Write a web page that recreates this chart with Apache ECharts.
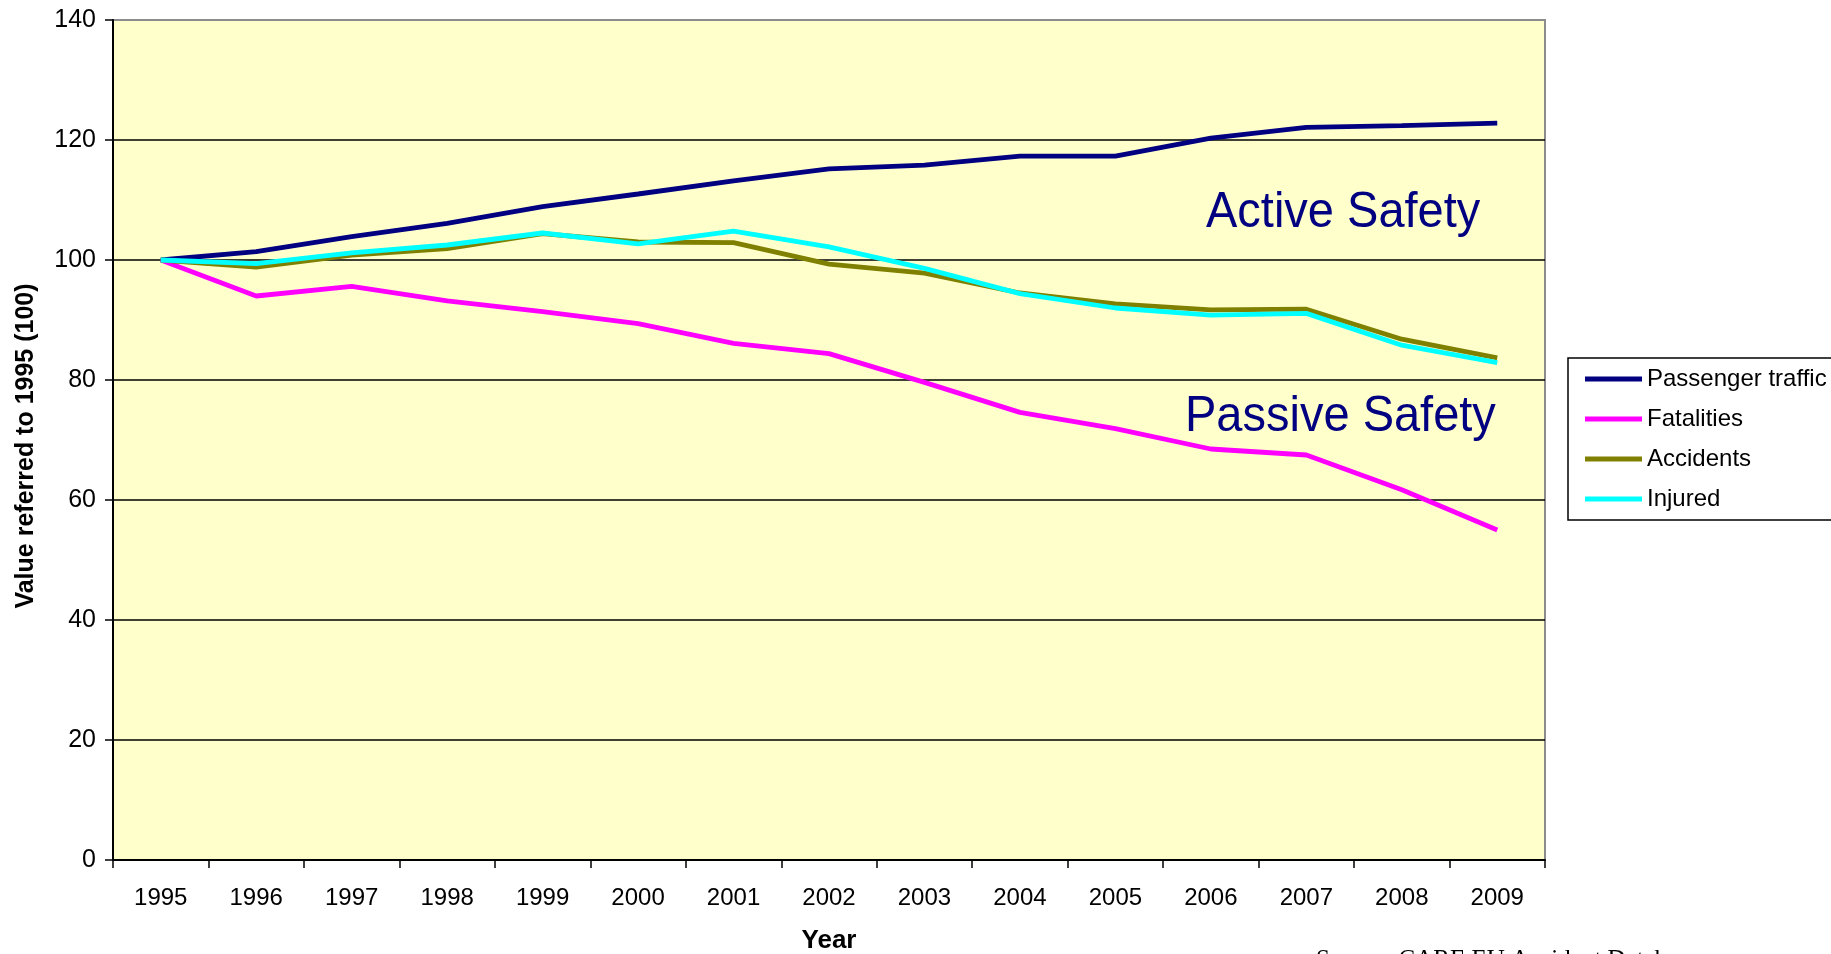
<!DOCTYPE html>
<html>
<head>
<meta charset="utf-8">
<script src="https://cdn.jsdelivr.net/npm/echarts@6/dist/echarts.min.js"></script>
<style>
html,body{margin:0;padding:0;background:#fff;}
#c{width:1831px;height:954px;}
</style>
</head>
<body>
<div id="c"></div>
<script>
const years = ['1995','1996','1997','1998','1999','2000','2001','2002','2003','2004','2005','2006','2007','2008','2009'];
const passengerTraffic = [100, 101.4, 103.9, 106.1, 108.9, 111.0, 113.2, 115.2, 115.8, 117.3, 117.3, 120.3, 122.1, 122.4, 122.8];
const fatalities = [100, 94.0, 95.6, 93.2, 91.4, 89.4, 86.1, 84.4, 79.6, 74.6, 71.9, 68.5, 67.5, 61.7, 55.0];
const accidents = [100, 98.8, 100.8, 101.9, 104.4, 103.0, 102.9, 99.3, 97.8, 94.5, 92.7, 91.7, 91.8, 86.8, 83.7];
const injured = [100, 99.4, 101.2, 102.5, 104.5, 102.7, 104.8, 102.2, 98.6, 94.4, 92.0, 90.8, 91.1, 85.8, 82.9];
const yTicks = [0, 20, 40, 60, 80, 100, 120, 140];

const font = 'Liberation Sans, Arial, sans-serif';
const chart = echarts.init(document.getElementById('c'), null, {renderer: 'canvas'});
const mk = (name, data, color) => ({
  name, type: 'line', data, symbol: 'none', smooth: false,
  lineStyle: {color, width: 4.8}, itemStyle: {color},
  emphasis: {disabled: true}, animation: false
});
chart.setOption({
  animation: false,
  grid: {left: 113, right: 286, top: 20, bottom: 94, show: true, containLabel: false, outerBoundsMode: 'none',
    backgroundColor: '#FFFFCC', borderColor: '#8c8c8c', borderWidth: 2},
  xAxis: {
    type: 'category', data: years, boundaryGap: true,
    name: 'Year', nameLocation: 'middle', nameGap: 68,
    nameTextStyle: {fontFamily: font, fontSize: 26, fontWeight: 'bold', color: '#000'},
    axisLine: {lineStyle: {color: '#000', width: 2}},
    axisTick: {show: true, length: 8, lineStyle: {color: '#000', width: 1.5}},
    axisLabel: {fontFamily: font, fontSize: 24, color: '#000', margin: 26, interval: 0},
    splitLine: {show: false}
  },
  yAxis: {
    type: 'value', min: yTicks[0], max: yTicks[yTicks.length - 1], interval: 20,
    name: 'Value referred to 1995 (100)', nameLocation: 'middle', nameGap: 74,
    nameTextStyle: {fontFamily: font, fontSize: 25, fontWeight: 'bold', color: '#000', padding: [0, 12, 0, 0]},
    axisLine: {show: true, lineStyle: {color: '#000', width: 2}},
    axisTick: {show: true, length: 8, lineStyle: {color: '#000', width: 1.5}},
    axisLabel: {fontFamily: font, fontSize: 25, color: '#000', margin: 17},
    splitLine: {show: true, showMaxLine: false, showMinLine: false, lineStyle: {color: '#000', width: 1.5}}
  },
  legend: {
    orient: 'vertical', left: 1568, top: 358,
    padding: [9, 30, 9, 17], itemGap: 16, itemWidth: 57, itemHeight: 5, icon: 'rect',
    borderColor: '#000', borderWidth: 1.5, backgroundColor: '#fff',
    textStyle: {fontFamily: font, fontSize: 24, color: '#000'},
    data: ['Passenger traffic', 'Fatalities', 'Accidents', 'Injured']
  },
  graphic: [
    {type: 'text', x: 1206, y: 213, scaleY: 1.05, z: 100,
      style: {text: 'Active Safety', fontFamily: font, fontSize: 47, fill: '#000080', verticalAlign: 'middle', align: 'left'}},
    {type: 'text', x: 1185, y: 417, scaleY: 1.05, z: 100,
      style: {text: 'Passive Safety', fontFamily: font, fontSize: 47, fill: '#000080', verticalAlign: 'middle', align: 'left'}},
    {type: 'text', left: 1316, top: 948, z: 100,
      style: {text: 'Source: CARE EU Accident Database', fontFamily: 'Liberation Serif, Times New Roman, serif', fontSize: 25, fill: '#000'}}
  ],
  series: [
    mk('Passenger traffic', passengerTraffic, '#000080'),
    mk('Fatalities', fatalities, '#FF00FF'),
    mk('Accidents', accidents, '#808000'),
    mk('Injured', injured, '#00FFFF')
  ]
});
</script>
</body>
</html>
